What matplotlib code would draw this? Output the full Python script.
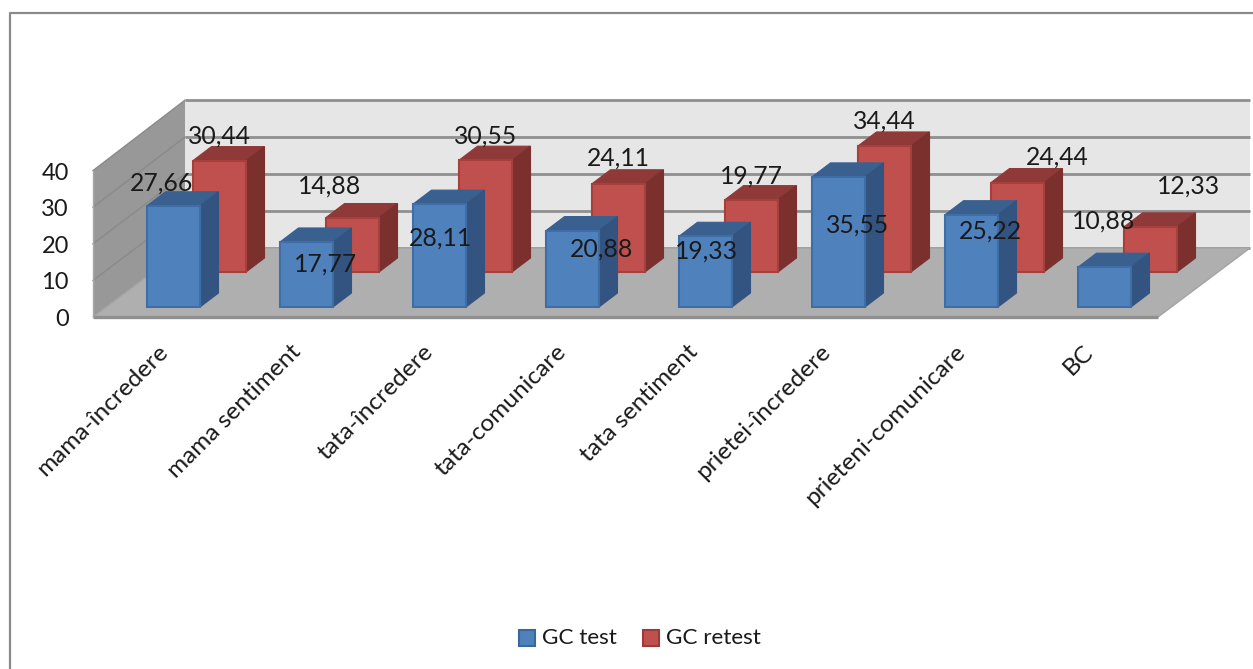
import matplotlib
matplotlib.use("Agg")
import matplotlib.pyplot as plt
from matplotlib.patches import Polygon

plt.rcParams['font.family'] = ['Lato', 'DejaVu Sans']

categories = ["mama-încredere", "mama sentiment", "tata-încredere", "tata-comunicare",
              "tata sentiment", "prietei-încredere", "prieteni-comunicare", "BC"]
gc_test = [27.66, 17.77, 28.11, 20.88, 19.33, 35.55, 25.22, 10.88]
gc_retest = [30.44, 14.88, 30.55, 24.11, 19.77, 34.44, 24.44, 12.33]
value_ticks = [0, 10, 20, 30, 40]

# Label offsets from the top centre of each front face, in pixels (right, up)
test_label_offset = [(-12, 23), (19, -22), (1, -34), (29, -18), (1, -15), (19, -48), (19, -16), (-1, 46)]
retest_label_offset = [(0, 25), (-23, 31), (0, 24), (0, 26), (0, 24), (0, 25), (40, 25), (38, 41)]

W, H = 1253, 669
PX_PER_CAT = 133.0
PX_PER_VAL = 3.66
ORIGIN_X, ORIGIN_Y = 173.5, 317.0   # pixel position of category 0, value 0


def dx(px):
    return px / PX_PER_CAT


def dy(px):
    return px / PX_PER_VAL


fig = plt.figure(figsize=(W / 100, H / 100), dpi=100)
ax = fig.add_axes([0, 0, 1, 1])
ax.set_xlim(-ORIGIN_X / PX_PER_CAT, (W - ORIGIN_X) / PX_PER_CAT)
ax.set_ylim(-(H - ORIGIN_Y) / PX_PER_VAL, ORIGIN_Y / PX_PER_VAL)
ax.axis("off")

# Outer chart frame
frame_l, frame_t = dx(9.5 - ORIGIN_X), dy(ORIGIN_Y - 12.5)
ax.plot([frame_l, frame_l, ax.get_xlim()[1]], [ax.get_ylim()[0], frame_t, frame_t],
        color="#8a8a8a", lw=1.6, zorder=1, clip_on=False)

# Box of the 3D plot area: front-left corner, and shift from front to back
wall_x0 = dx(93 - ORIGIN_X)
wall_x1 = dx(1158 - ORIGIN_X)
depth_x, depth_y = dx(92), dy(69)
back_right = dx(1250 - ORIGIN_X)
top = value_ticks[-1]

ax.add_patch(Polygon([(wall_x0 + depth_x, depth_y), (wall_x0 + depth_x, depth_y + top + 0.4),
                      (back_right, depth_y + top + 0.4), (back_right, depth_y)],
                     fc="#e6e6e6", ec="none", zorder=2))
ax.add_patch(Polygon([(wall_x0, 0), (wall_x0, top), (wall_x0 + depth_x, top + depth_y + 0.4),
                      (wall_x0 + depth_x, depth_y)],
                     fc="#989898", ec="none", zorder=2))
ax.add_patch(Polygon([(wall_x0, 0), (wall_x1, 0), (back_right, depth_y), (wall_x0 + depth_x, depth_y)],
                     fc="#afafaf", ec="#a4a4a4", lw=1, zorder=3))

for t in value_ticks:
    grid_y = t * 1.01 + depth_y
    ax.plot([wall_x0 + depth_x, back_right], [grid_y, grid_y],
            color="#8f8f8f", lw=2, zorder=2.5, solid_capstyle="butt")
    if t:
        ax.plot([wall_x0, wall_x0 + depth_x], [t, grid_y],
                color="#8a8a8a", lw=1.0, zorder=2.5)
    ax.text(dx(69 - ORIGIN_X), t - dy(2.5), str(t), ha="right", va="center",
            fontsize=17, color="#1a1a1a", zorder=10)
ax.plot([wall_x0, wall_x1], [0, 0], color="#8f8f8f", lw=2.4, zorder=3.5, solid_capstyle="butt")
ax.plot([wall_x0, wall_x0], [0, top], color="#a8a8a8", lw=1, zorder=3.5)


def draw_series(values, x_shift, base_px, front, edge, top_fc, side_fc, z):
    """Draw one row of bars with a front face from the axes plus top and side faces."""
    width = dx(53)
    base = dy(base_px)
    xs = [i + x_shift for i in range(len(values))]
    ax.bar(xs, values, width=width, bottom=base, align="edge",
           color=front, edgecolor=edge, linewidth=1.5, zorder=z + 0.2)
    sx, sy = dx(18.5), dy(14)
    for x, v in zip(xs, values):
        ytop = base + v
        ax.add_patch(Polygon([(x, ytop), (x + width, ytop), (x + width + sx, ytop + sy), (x + sx, ytop + sy)],
                             fc=top_fc, ec=top_fc, lw=0.8, zorder=z))
        ax.add_patch(Polygon([(x + width, base), (x + width, ytop), (x + width + sx, ytop + sy),
                              (x + width + sx, base + sy)],
                             fc=side_fc, ec=side_fc, lw=0.8, zorder=z))
    return xs


bar_w = dx(53)
retest_x = draw_series(gc_retest, dx(193 - 173.5), 45, "#c0504d", "#a5403d", "#8f3a38", "#7b302e", 4)
test_x = draw_series(gc_test, dx(147 - 173.5), 10, "#4f81bd", "#3f6ea6", "#3a6090", "#335480", 6)

# Value labels with a decimal comma
for xs, values, base_px, offsets in [(retest_x, gc_retest, 45, retest_label_offset),
                                     (test_x, gc_test, 10, test_label_offset)]:
    for x, v, (ox, oy) in zip(xs, values, offsets):
        ax.annotate(f"{v:.2f}".replace(".", ","), (x + bar_w / 2, v + dy(base_px)),
                    xytext=(ox * 0.72, oy * 0.72), textcoords="offset points",
                    ha="center", va="center", fontsize=17.8, color="#1a1a1a", zorder=10)

# Rotated category labels
label_px = [157, 290, 422, 555, 687, 820, 954, 1082]
for name, lx in zip(categories, label_px):
    ax.text(dx(lx - ORIGIN_X), dy(ORIGIN_Y - 341), name, rotation=45, rotation_mode="anchor",
            ha="right", va="top", fontsize=17.6, color="#1a1a1a", zorder=10)

# Legend
for lx, tx, name, fc, ec in [(519, 542, "GC test", "#4f81bd", "#3a679c"),
                             (643, 666, "GC retest", "#c0504d", "#9c3a38")]:
    ax.add_patch(Polygon([(dx(lx - ORIGIN_X), dy(ORIGIN_Y - 646)), (dx(lx + 16 - ORIGIN_X), dy(ORIGIN_Y - 646)),
                          (dx(lx + 16 - ORIGIN_X), dy(ORIGIN_Y - 630)), (dx(lx - ORIGIN_X), dy(ORIGIN_Y - 630))],
                         fc=fc, ec=ec, lw=1.5, zorder=10))
    ax.text(dx(tx - ORIGIN_X), dy(ORIGIN_Y - 638), name, ha="left", va="center",
            fontsize=16.2, color="#1a1a1a", zorder=10)

fig.savefig("out.png", dpi=100)
